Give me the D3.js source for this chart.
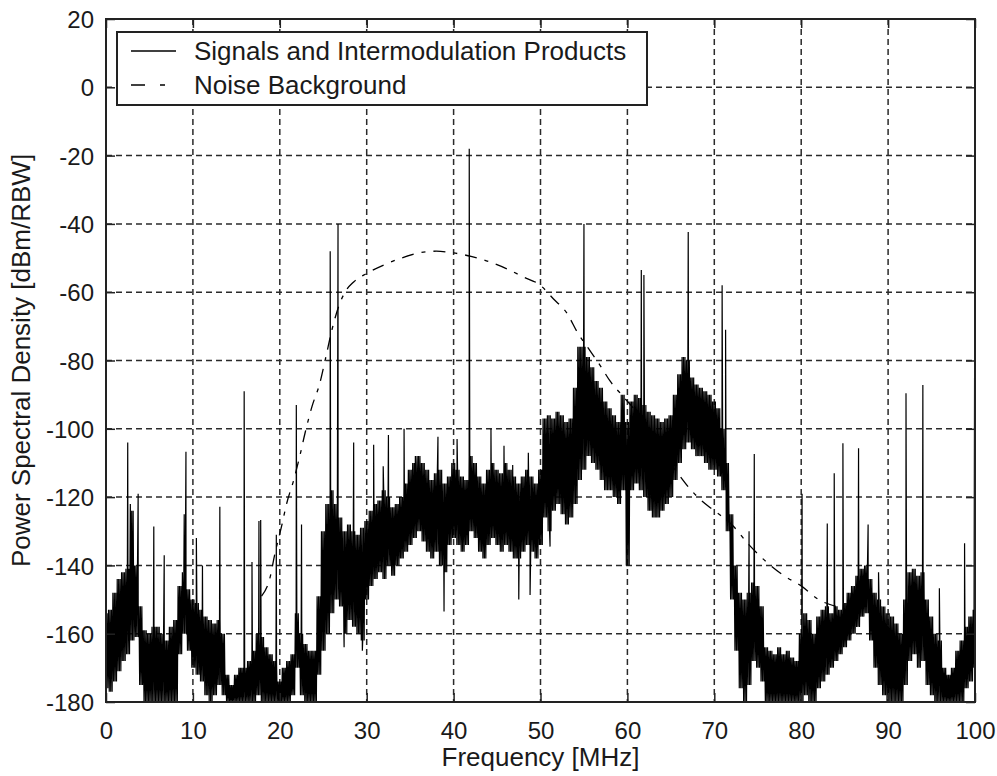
<!DOCTYPE html>
<html>
<head>
<meta charset="utf-8">
<script src="https://cdn.jsdelivr.net/npm/d3@7/dist/d3.min.js"></script>
<style>
  body { margin: 0; background: #fff; }
  text { font-family: "Liberation Sans", Arial, Helvetica, sans-serif; fill: #1a1a1a; }
</style>
</head>
<body>
<svg id="chart" width="997" height="776"></svg>
<script>
// Spectrum envelope sampled every 0.5 MHz from 0 to 100 MHz (dBm/RBW):
// upper and lower edge of the measured trace in each bin.
const binStep = 0.5;
const traceHi = [
  -154,-153,-148,-144,-142,-141,-124,-140,-152,-159,
  -160,-158,-158,-160,-162,-158,-156,-146,-142,-147,
  -150,-151,-153,-155,-156,-157,-156,-160,-172,-175,
  -172,-170,-170,-168,-165,-160,-161,-164,-166,-168,
  -174,-170,-168,-166,-154,-160,-163,-165,-165,-149,
  -130,-122,-118,-122,-126,-130,-128,-130,-131,-129,
  -127,-124,-122,-121,-118,-120,-123,-122,-120,-116,
  -112,-110,-108,-110,-112,-115,-113,-112,-116,-114,
  -110,-112,-114,-115,-108,-110,-114,-116,-112,-110,
  -112,-113,-110,-112,-114,-116,-114,-112,-114,-116,
  -112,-97,-96,-97,-95,-96,-98,-97,-88,-76,
  -76,-79,-82,-86,-88,-92,-94,-96,-98,-90,
  -98,-92,-90,-91,-93,-95,-96,-97,-98,-97,
  -96,-90,-84,-79,-80,-85,-87,-88,-89,-90,
  -92,-94,-100,-110,-125,-140,-148,-150,-148,-145,
  -146,-152,-164,-165,-166,-164,-166,-165,-167,-168,
  -160,-154,-156,-160,-155,-153,-152,-154,-152,-153,
  -151,-148,-146,-143,-141,-140,-144,-148,-150,-152,
  -154,-155,-157,-160,-150,-142,-141,-143,-142,-150,
  -155,-160,-162,-170,-172,-170,-165,-162,-158,-155,
  -153
];
const traceLo = [
  -176,-177,-174,-171,-168,-166,-162,-161,-175,-180,
  -180,-180,-180,-180,-180,-180,-180,-166,-160,-165,
  -170,-172,-174,-178,-180,-178,-175,-178,-180,-180,
  -180,-180,-180,-180,-180,-178,-180,-180,-180,-180,
  -180,-180,-180,-178,-170,-178,-180,-180,-180,-172,
  -165,-160,-154,-150,-152,-160,-156,-158,-160,-162,
  -150,-146,-144,-142,-144,-140,-143,-140,-138,-136,
  -134,-132,-130,-133,-136,-138,-136,-140,-142,-134,
  -132,-134,-136,-134,-130,-132,-136,-138,-134,-132,
  -134,-136,-134,-136,-138,-138,-136,-134,-136,-138,
  -134,-126,-130,-124,-122,-125,-128,-126,-122,-115,
  -112,-108,-110,-112,-115,-118,-118,-120,-122,-118,
  -140,-118,-116,-118,-120,-124,-126,-126,-124,-122,
  -120,-115,-110,-106,-104,-106,-108,-108,-110,-112,
  -112,-114,-118,-130,-150,-165,-176,-180,-175,-168,
  -170,-174,-180,-180,-180,-180,-180,-180,-180,-180,
  -180,-178,-180,-180,-176,-174,-172,-170,-168,-166,
  -164,-162,-160,-158,-155,-154,-162,-170,-175,-178,
  -180,-180,-180,-180,-175,-168,-166,-170,-168,-175,
  -178,-180,-180,-180,-180,-180,-180,-180,-176,-174,
  -170
];

// Narrow carriers and intermodulation products (MHz, peak dBm/RBW)
const spikeFreq = [2.5, 2.8, 3.7, 5.5, 6.7, 9.0, 9.2, 10.4, 11.1, 13.1,
  15.9, 16.8, 17.6, 17.8, 19.6, 21.9, 22.5, 25.8, 26.7, 28.5,
  30.8, 31.9, 32.5, 34.3, 35.6, 38.2, 40.4, 41.8, 44.3, 45.8,
  46.8, 48.6, 55.0, 61.6, 61.9, 67.0, 70.9, 71.3, 74.0, 74.6,
  80.1, 83.0, 83.8, 84.8, 86.6, 87.7, 88.9, 92.06, 94.0, 95.9,
  98.8, 99.95];
const spikeTop = [-104, -122, -119, -128.6, -137, -125, -106.7, -132, -140, -122.8,
  -89, -139, -127, -126.7, -131, -93, -128, -48, -40, -104,
  -104.7, -111, -101.8, -100, -108, -102.3, -103, -18, -100, -105,
  -110.6, -107, -40, -53.5, -55, -42.4, -58, -71, -130, -107.4,
  -119, -127.7, -113, -104.2, -105.7, -128, -142, -89.6, -87.2, -146.7,
  -133.5, -85];

// Deep single-bin dips (MHz, minimum dBm/RBW)
const dipFreq = [27.4, 29.5, 38.9, 47.5, 48.8, 51.1];
const dipBottom = [-164, -165, -153.5, -150, -148.7, -134.5];

// Noise background estimate (MHz, dBm/RBW)
const noiseFreq = [17.9, 18.9, 19.4, 20.2, 20.8, 21.6, 22.3, 22.9, 23.7, 24.6,
  25.3, 26.0, 26.8, 27.5, 28.5, 30, 32, 34, 36, 38,
  40, 42, 44, 46, 48, 50, 51.5, 53, 54.3, 55.5,
  57, 58, 59.5, 61, 62.5, 64, 65.5, 67, 68.5, 70,
  72, 74, 76, 78, 80, 82, 84];
const noiseDb = [-149, -143.3, -137, -128.6, -121.8, -115, -108, -101.3, -93.5, -86.7,
  -79, -71, -64, -60, -57, -54.5, -52, -50, -48.5, -48,
  -48.5, -49.5, -51, -53, -55.5, -58, -62, -66, -72, -76.4,
  -82, -86, -90.5, -95, -101, -107, -112, -117, -121, -124,
  -128, -134, -139, -143, -146, -150, -152];

const xTicks = [0, 10, 20, 30, 40, 50, 60, 70, 80, 90, 100];
const yTicks = [20, 0, -20, -40, -60, -80, -100, -120, -140, -160, -180];
const legendLabels = ["Signals and Intermodulation Products", "Noise Background"];
const xLabel = "Frequency [MHz]";
const yLabel = "Power Spectral Density [dBm/RBW]";

const svg = d3.select("#chart");
const plot = { left: 106, right: 975, top: 19, bottom: 702 };
const x = d3.scaleLinear().domain([0, 100]).range([plot.left, plot.right]);
const y = d3.scaleLinear().domain([-180, 20]).range([plot.bottom, plot.top]);
const plainNumber = d => String(d);   // ASCII hyphen for negatives

svg.append("rect").attr("width", 997).attr("height", 776).attr("fill", "#fff");

svg.append("defs").append("clipPath").attr("id", "plotClip")
  .append("rect")
  .attr("x", plot.left).attr("y", plot.top)
  .attr("width", plot.right - plot.left).attr("height", plot.bottom - plot.top);

// Grid
const grid = svg.append("g").attr("stroke", "#2a2a2a").attr("stroke-width", 1.5)
  .attr("stroke-dasharray", "6,4").attr("fill", "none");
xTicks.slice(1, -1).forEach(t => {
  grid.append("line").attr("x1", x(t)).attr("x2", x(t))
    .attr("y1", plot.top).attr("y2", plot.bottom);
});
yTicks.slice(1, -1).forEach(t => {
  grid.append("line").attr("x1", plot.left).attr("x2", plot.right)
    .attr("y1", y(t)).attr("y2", y(t));
});

// Measured trace: each bin is swept between its upper and lower edge,
// carriers and dips are added as single-point excursions.
const sub = 6;
const pts = [];
traceHi.forEach((hi, i) => {
  const lo = traceLo[i];
  const f0 = i * binStep - binStep / 2;
  for (let k = 0; k < sub; k++) {
    const f = f0 + (k + 0.5) * binStep / sub;
    if (f < 0 || f > 100) continue;
    pts.push([f, k % 2 ? lo : hi]);
  }
});
spikeFreq.forEach((f, i) => pts.push([f, spikeTop[i]]));
dipFreq.forEach((f, i) => pts.push([f, dipBottom[i]]));
pts.sort((a, b) => a[0] - b[0]);

const line = d3.line().x(d => x(d[0])).y(d => y(d[1]));
const traces = svg.append("g").attr("clip-path", "url(#plotClip)");
traces.append("path").datum(pts)
  .attr("fill", "none").attr("stroke", "#000").attr("stroke-width", 1.2)
  .attr("stroke-linejoin", "miter").attr("stroke-miterlimit", 2)
  .attr("d", line);

const noise = noiseFreq.map((f, i) => [f, noiseDb[i]]);
traces.append("path").datum(noise)
  .attr("fill", "none").attr("stroke", "#000").attr("stroke-width", 1.3)
  .attr("stroke-dasharray", "12,8,4,8")
  .attr("d", d3.line().x(d => x(d[0])).y(d => y(d[1])).curve(d3.curveMonotoneX));

// Axes frame with inward ticks on all four sides
const frame = svg.append("g");
frame.append("rect")
  .attr("x", plot.left).attr("y", plot.top)
  .attr("width", plot.right - plot.left).attr("height", plot.bottom - plot.top)
  .attr("fill", "none").attr("stroke", "#222").attr("stroke-width", 2);

const tickLen = 9;
const axB = frame.append("g").attr("transform", `translate(0,${plot.bottom})`)
  .call(d3.axisBottom(x).tickValues(xTicks).tickFormat(plainNumber)
    .tickSizeInner(-tickLen).tickSizeOuter(0).tickPadding(14));
const axT = frame.append("g").attr("transform", `translate(0,${plot.top})`)
  .call(d3.axisTop(x).tickValues(xTicks).tickSizeInner(-tickLen).tickSizeOuter(0).tickFormat(""));
const axL = frame.append("g").attr("transform", `translate(${plot.left},0)`)
  .call(d3.axisLeft(y).tickValues(yTicks).tickFormat(plainNumber)
    .tickSizeInner(-tickLen).tickSizeOuter(0).tickPadding(12));
const axR = frame.append("g").attr("transform", `translate(${plot.right},0)`)
  .call(d3.axisRight(y).tickValues(yTicks).tickSizeInner(-tickLen).tickSizeOuter(0).tickFormat(""));

[axB, axT, axL, axR].forEach(g => {
  g.select(".domain").remove();
  g.selectAll(".tick line").attr("stroke", "#222").attr("stroke-width", 1.5);
  g.selectAll(".tick text").attr("font-size", 24).attr("fill", "#1a1a1a")
    .style("font-family", '"Liberation Sans", Arial, sans-serif');
});
axB.selectAll(".tick text").attr("dy", "0.95em");
axL.selectAll(".tick text").attr("dy", "0.36em");

// Axis titles
svg.append("text").attr("x", (plot.left + plot.right) / 2).attr("y", 766)
  .attr("text-anchor", "middle").attr("font-size", 26).text(xLabel);
svg.append("text").attr("transform", `translate(30,${(plot.top + plot.bottom) / 2}) rotate(-90)`)
  .attr("text-anchor", "middle").attr("font-size", 26).text(yLabel);

// Legend
const lg = svg.append("g");
lg.append("rect").attr("x", 117).attr("y", 32).attr("width", 530).attr("height", 73)
  .attr("fill", "#fff").attr("stroke", "#222").attr("stroke-width", 2);
const legendDash = [null, "14,15,5,30"];
legendLabels.forEach((label, i) => {
  const cy = 51 + i * 34;
  lg.append("line").attr("x1", 131).attr("x2", 176).attr("y1", cy).attr("y2", cy)
    .attr("stroke", "#000").attr("stroke-width", 1.5)
    .attr("stroke-dasharray", legendDash[i]);
  lg.append("text").attr("x", 194).attr("y", cy + 9).attr("font-size", 26).text(label);
});
</script>
</body>
</html>
